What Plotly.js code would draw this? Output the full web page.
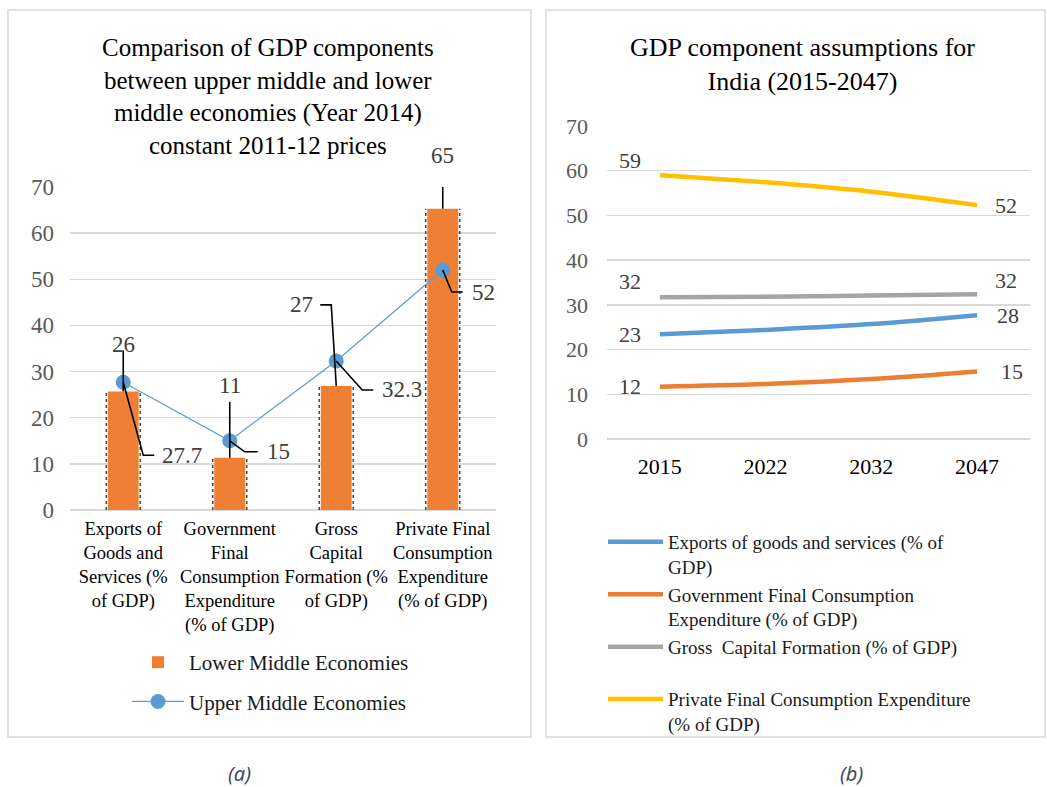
<!DOCTYPE html>
<html><head><meta charset="utf-8">
<script src="https://cdn.plot.ly/plotly-3.0.1.min.js"></script>
<style>html,body{margin:0;padding:0;background:#fff}#chart{width:1047px;height:787px}</style>
</head><body><div id="chart"></div>
<script>
// ---------- data: panel (a) ----------
const categoriesA = ['Exports', 'Government', 'Gross', 'Private'];
const tickLabelsA = [
  'Exports of<br>Goods and<br>Services (%<br>of GDP)',
  'Government<br>Final<br>Consumption<br>Expenditure<br>(% of GDP)',
  'Gross<br>Capital<br>Formation (%<br>of GDP)',
  'Private Final<br>Consumption<br>Expenditure<br>(% of GDP)'
];
const lowerMiddle = [25.7, 11.3, 26.9, 65.3];
const upperMiddle = [27.7, 15, 32.3, 52];
const seriesNamesA = ['Lower Middle Economies', 'Upper Middle Economies'];

// ---------- data: panel (b) ----------
const years = ['2015', '2022', '2032', '2047'];
const exportsB = [23.4, 24.4, 25.7, 27.7];
const govB = [11.7, 12.3, 13.4, 15.1];
const grossB = [31.7, 31.8, 32.1, 32.4];
const privateB = [59.0, 57.4, 55.3, 52.3];
const seriesNamesB = [
  'Exports of goods and services (% of<br>GDP)',
  'Government Final Consumption<br>Expenditure (% of GDP)',
  'Gross\u00a0 Capital Formation (% of GDP)<br>\u00a0',
  'Private Final Consumption Expenditure<br>(% of GDP)'
];
const yTicks = [0, 10, 20, 30, 40, 50, 60, 70];

// ---------- helpers ----------
const W = 1047, H = 787;
const px = v => v / W;
const py = v => 1 - v / H;
const SERIF = 'Liberation Serif, Times New Roman, serif';
const BLUE = '#5B9BD5', ORANGE = '#ED7D31', GRAY = '#A5A5A5', GOLD = '#FFC000';

const traces = [
  {type: 'bar', x: categoriesA, y: lowerMiddle, name: seriesNamesA[0], xaxis: 'x', yaxis: 'y',
   marker: {color: '#EE7F34'}, legend: 'legend', legendgroup: 'a1', hoverinfo: 'skip'},
  {type: 'scatter', mode: 'lines+markers', x: categoriesA, y: upperMiddle, name: seriesNamesA[1],
   xaxis: 'x', yaxis: 'y', line: {color: BLUE, width: 1.2}, marker: {color: BLUE, size: 15},
   legend: 'legend', legendgroup: 'a2', hoverinfo: 'skip'},
  {type: 'scatter', mode: 'lines', x: years, y: exportsB, name: seriesNamesB[0], xaxis: 'x2', yaxis: 'y2',
   line: {color: BLUE, width: 4.5, shape: 'spline'}, legend: 'legend2', hoverinfo: 'skip'},
  {type: 'scatter', mode: 'lines', x: years, y: govB, name: seriesNamesB[1], xaxis: 'x2', yaxis: 'y2',
   line: {color: ORANGE, width: 4.5, shape: 'spline'}, legend: 'legend2', hoverinfo: 'skip'},
  {type: 'scatter', mode: 'lines', x: years, y: grossB, name: seriesNamesB[2], xaxis: 'x2', yaxis: 'y2',
   line: {color: GRAY, width: 4.5, shape: 'spline'}, legend: 'legend2', hoverinfo: 'skip'},
  {type: 'scatter', mode: 'lines', x: years, y: privateB, name: seriesNamesB[3], xaxis: 'x2', yaxis: 'y2',
   line: {color: GOLD, width: 4.5, shape: 'spline'}, legend: 'legend2', hoverinfo: 'skip'}
];

const LABEL_FONT = {family: SERIF, size: 23, color: '#404040'};
const annotations = [];
const shapes = [];

// panel borders
shapes.push({type: 'rect', xref: 'paper', yref: 'paper', x0: px(8), x1: px(531), y0: py(737), y1: py(10),
  line: {color: '#D9D9D9', width: 1.5}, fillcolor: 'rgba(0,0,0,0)', layer: 'below'});
shapes.push({type: 'rect', xref: 'paper', yref: 'paper', x0: px(546), x1: px(1045), y0: py(737), y1: py(10),
  line: {color: '#D9D9D9', width: 1.5}, fillcolor: 'rgba(0,0,0,0)', layer: 'below'});

// dotted edges along each bar (as in the source image)
categoriesA.forEach((c, i) => {
  [-17, 17].forEach(off => {
    shapes.push({type: 'line', xref: 'x', yref: 'y', xsizemode: 'pixel', xanchor: c,
      x0: off, x1: off, y0: 0, y1: lowerMiddle[i], line: {color: '#3a3a3a', width: 1.4, dash: 'dot'}});
  });
});

// leader-line helper (pixel offsets relative to a data point, y up)
function leader(xv, yv, path) {
  shapes.push({type: 'path', xref: 'x', yref: 'y', xsizemode: 'pixel', ysizemode: 'pixel',
    xanchor: xv, yanchor: yv, path: path, line: {color: '#000', width: 1.6}});
}
function label(xv, yv, text, dx, dy, anchor, xref, yref, font) {
  annotations.push({xref: xref || 'x', yref: yref || 'y', x: xv, y: yv, text: text, showarrow: false,
    xshift: dx, yshift: dy, xanchor: anchor || 'center', yanchor: 'middle', font: font || LABEL_FONT});
}
const fmt = v => String(Math.round(v));

// panel (a) data labels with leader lines
const lowerLab = [
  {dx: 0, dy: 47, a: 'center', p: 'M0,0L0,41'},
  {dx: 0, dy: 72, a: 'center', p: 'M0,0L0,56'},
  {dx: -21, dy: 81, a: 'right', p: 'M0,0L-5,81L-16,81'},
  {dx: 0, dy: 53, a: 'center', p: 'M0,0L0,37'}
];
const upperLab = [
  {dx: 37, dy: -73, a: 'left', p: 'M0,0L20,-73L31,-73'},
  {dx: 35, dy: -11, a: 'left', p: 'M0,0L15,-11L28,-11'},
  {dx: 44, dy: -29, a: 'left', p: 'M0,0L26,-29L37,-29'},
  {dx: 27, dy: -22, a: 'left', p: 'M0,0L9,-22L20,-22'}
];
categoriesA.forEach((c, i) => {
  leader(c, lowerMiddle[i], lowerLab[i].p);
  label(c, lowerMiddle[i], fmt(lowerMiddle[i]), lowerLab[i].dx, lowerLab[i].dy, lowerLab[i].a);
  leader(c, upperMiddle[i], upperLab[i].p);
  label(c, upperMiddle[i], String(upperMiddle[i]), upperLab[i].dx, upperLab[i].dy, upperLab[i].a);
});

// panel (b) data labels at first and last points (x given as category index)
const seriesB = [exportsB, govB, grossB, privateB];
const firstShift = [[-30, 0], [-30, 0], [-30, 16], [-30, 15]];
const lastShift = [[31, 0], [35, 0], [29, 14], [29, 0]];
const LABEL_FONT_B = {family: SERIF, size: 22, color: '#404040'};
seriesB.forEach((s, k) => {
  const n = s.length - 1;
  label(0, s[0], fmt(s[0]), firstShift[k][0], firstShift[k][1], 'center', 'x2', 'y2', LABEL_FONT_B);
  label(n, s[n], fmt(s[n]), lastShift[k][0], lastShift[k][1], 'center', 'x2', 'y2', LABEL_FONT_B);
});

// titles
annotations.push({xref: 'paper', yref: 'paper', x: px(268), y: py(97), xanchor: 'center', yanchor: 'middle',
  showarrow: false, align: 'center',
  text: 'Comparison of GDP components<br>between upper middle and lower<br>middle economies (Year 2014)<br>constant 2011-12 prices',
  font: {family: SERIF, size: 25, color: '#000'}});
annotations.push({xref: 'paper', yref: 'paper', x: px(802), y: py(64), xanchor: 'center', yanchor: 'middle',
  showarrow: false, align: 'center',
  text: 'GDP component assumptions for<br>India (2015-2047)',
  font: {family: SERIF, size: 26, color: '#000'}});
// captions
annotations.push({xref: 'paper', yref: 'paper', x: px(239), y: py(773), xanchor: 'center', yanchor: 'middle',
  showarrow: false, text: '<i>(a)</i>', font: {family: 'Noto Sans, sans-serif', size: 20, color: '#3E4C5E'}});
annotations.push({xref: 'paper', yref: 'paper', x: px(851), y: py(773), xanchor: 'center', yanchor: 'middle',
  showarrow: false, text: '<i>(b)</i>', font: {family: 'Noto Sans, sans-serif', size: 20, color: '#3E4C5E'}});

const yAxisBase = {range: [0, 70], tickvals: yTicks, showgrid: true, gridcolor: '#D9D9D9', gridwidth: 1.5,
  zeroline: true, zerolinecolor: '#D9D9D9', zerolinewidth: 1.5, showline: false, ticks: '', fixedrange: true};

const layout = {
  width: W, height: H, margin: {l: 0, r: 0, t: 0, b: 0}, autosize: false,
  paper_bgcolor: '#fff', plot_bgcolor: 'rgba(0,0,0,0)',
  font: {family: SERIF, color: '#000'},
  showlegend: true, bargap: 0.71, hovermode: false,
  xaxis: {domain: [px(70), px(496)], anchor: 'y', type: 'category', range: [-0.5, 3.5],
    tickvals: categoriesA, ticktext: tickLabelsA, tickfont: {family: SERIF, size: 18.5, color: '#000'},
    showgrid: false, zeroline: false, showline: false, ticks: '', ticklabelstandoff: 5, fixedrange: true},
  yaxis: Object.assign({}, yAxisBase, {domain: [py(510), py(187)], anchor: 'x',
    tickfont: {family: SERIF, size: 23, color: '#595959'}, ticklabelstandoff: 15}),
  xaxis2: {domain: [px(607), px(1030)], anchor: 'y2', type: 'category', range: [-0.5, 3.5],
    tickfont: {family: SERIF, size: 22, color: '#000'}, showgrid: false, zeroline: false, showline: false,
    ticks: '', ticklabelstandoff: 12, fixedrange: true},
  yaxis2: Object.assign({}, yAxisBase, {domain: [py(439), py(126)], anchor: 'x2',
    tickfont: {family: SERIF, size: 22, color: '#595959'}, ticklabelstandoff: 18}),
  legend: {x: px(127), y: py(642), xanchor: 'left', yanchor: 'top', bgcolor: 'rgba(0,0,0,0)', itemwidth: 52,
    font: {family: SERIF, size: 21, color: '#1a1a1a'}, tracegroupgap: 9, traceorder: 'grouped'},
  legend2: {x: px(603), y: py(523), xanchor: 'left', yanchor: 'top', bgcolor: 'rgba(0,0,0,0)', itemwidth: 55,
    font: {family: SERIF, size: 19, color: '#1a1a1a'}, valign: 'top', tracegroupgap: 0},
  shapes: shapes,
  annotations: annotations
};

Plotly.newPlot('chart', traces, layout, {displayModeBar: false, staticPlot: true});
</script>
</body></html>
